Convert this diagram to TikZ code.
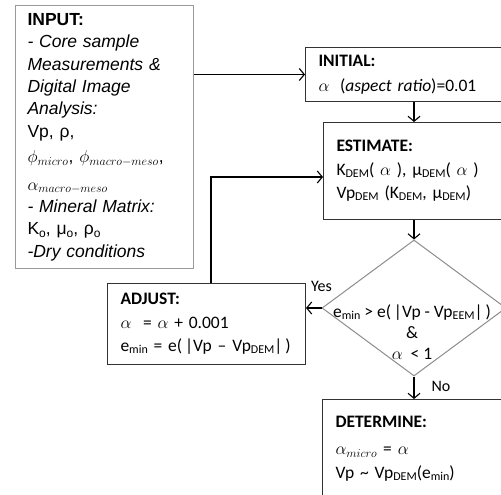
\documentclass[tikz,border=0pt]{standalone}
\usepackage{fontspec}
\setmainfont{Carlito}
\newfontfamily\arialfont{Liberation Sans}
\usetikzlibrary{arrows.meta,positioning,shapes.geometric}

\newcommand{\lowsub}[1]{\raisebox{-0.25ex}{\fontsize{12}{12}\selectfont #1}}

\begin{document}
\begin{tikzpicture}[x=1pt,y=-1pt,
    box/.style={draw=black!80,line width=1pt,rectangle,anchor=north west,
        align=left,inner xsep=13pt,inner ysep=0pt,
        font=\fontsize{17.5}{23.5}\selectfont},
    arr/.style={-{Straight Barb[length=5pt,width=12pt]},line width=1.1pt},
    lbl/.style={font=\fontsize{16}{18}\selectfont}]

    \clip (0,0) rectangle (501,495);

    \node[box,draw=black!40,inner xsep=12pt,text width=154pt,minimum height=263pt,
        font=\arialfont\fontsize{17.5}{22.4}\selectfont] (input) at (15,5)
        {\textbf{INPUT:}\\
         \textit{- Core sample}\\
         \textit{Measurements \&}\\
         \textit{Digital Image}\\
         \textit{Analysis:}\\
         Vp, ρ,\\[3pt]
         $\phi_{micro}$, $\phi_{macro-meso}$,\\[5pt]
         $\alpha_{macro-meso}$\\
         \textit{- Mineral Matrix:}\\
         K\lowsub{o}, μ\lowsub{o}, ρ\lowsub{o}\\
         \textit{-Dry conditions}};

    \node[box,text width=190pt,minimum height=54pt] (initial) at (305,47)
        {\textbf{INITIAL:}\\[1pt]
         $\alpha$\; (\textit{aspect ratio})=0.01};

    \node[box,text width=180pt,minimum height=97pt] (estimate) at (323,122)
        {\textbf{ESTIMATE:}\\
         K\lowsub{DEM}( $\alpha$ ), μ\lowsub{DEM}( $\alpha$ )\\
         Vp\lowsub{DEM} (K\lowsub{DEM}, μ\lowsub{DEM})};

    % decision
    \node[diamond,draw=black!45,line width=1pt,inner sep=0pt,
        minimum width=184pt,minimum height=136pt] (check) at (414,308) {};
    \node[font=\fontsize{17.5}{21}\selectfont,align=center,inner sep=0pt] (checktext) at (412,332)
        {e\lowsub{min} > e(\,|Vp - Vp\lowsub{EEM}|\,)\\
         \&\\
         $\alpha$ \ < 1};

    \node[box,text width=172pt,minimum height=81pt] (adjust) at (107,283)
        {\textbf{ADJUST:}\\
         $\alpha$ \ = $\alpha$ + 0.001\\
         e\lowsub{min} = e(\,|Vp -- Vp\lowsub{DEM}|\,)};

    \node[box,text width=180pt,minimum height=98pt] (determine) at (322,399)
        {\textbf{DETERMINE:}\\[4pt]
         $\alpha_{micro}$ = $\alpha$\\
         Vp \textasciitilde{} Vp\lowsub{DEM}(e\lowsub{min})};

    \coordinate (back) at (211,177);

    \draw[arr] (input.east |- initial.west) -- (initial.west);
    \draw[arr] (initial.south -| check.north) -- (estimate.north -| check.north);
    \draw[arr] (estimate.south -| check.north) -- (check.north);
    \draw[arr] (check.west) -- (check.west -| adjust.east)
        node[lbl,above=13pt of check.west] (yes) {Yes};
    \draw[arr] (adjust.north -| back) |- (estimate.west |- back);
    \draw[arr] (check.south) -- (determine.north -| check.south);
    \node[lbl,right=14pt of check.south,yshift=-10pt] (no) {No};

\end{tikzpicture}
\end{document}
